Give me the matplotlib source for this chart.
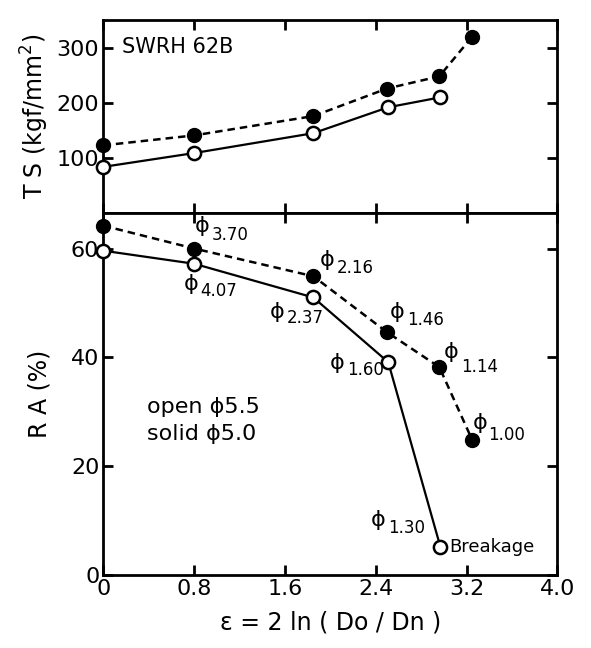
import matplotlib.pyplot as plt
import numpy as np

plt.rcParams['font.family'] = ['DejaVu Sans']

# 数据
x_solid = [0, 0.8, 1.85, 2.5, 2.96, 3.25]       # solid phi5.0
x_open = [0, 0.8, 1.85, 2.51, 2.97]             # open phi5.5
ts_solid = [123, 141, 176, 226, 248, 320]
ts_open = [84, 109, 145, 192, 210]
ra_solid = [64.2, 60.0, 54.9, 44.6, 38.2, 24.8]
ra_open = [59.6, 57.2, 51.0, 39.1, 5.1]

# 线径标注
dia_solid = [None, '3.70', '2.16', '1.46', '1.14', '1.00']
dia_open = [None, '4.07', '2.37', '1.60', '1.30']

xticks = [0, 0.8, 1.6, 2.4, 3.2, 4.0]
xtick_labels = ['0', '0.8', '1.6', '2.4', '3.2', '4.0']

fig = plt.figure(figsize=(5.91, 6.48), dpi=100)
ax1 = fig.add_axes([0.175, 0.671, 0.768, 0.298])
ax2 = fig.add_axes([0.175, 0.113, 0.768, 0.558])

for ax in (ax1, ax2):
    ax.set_xlim(0, 4.0)
    ax.set_xticks(xticks)
    ax.tick_params(direction='in', length=7, width=2, top=True, right=True,
                   labelsize=16, pad=3)
    for s in ax.spines.values():
        s.set_linewidth(2)

ax1.set_ylim(0, 350)
ax1.set_yticks([100, 200, 300])
ax1.set_xticklabels([])
ax2.set_ylim(0, 66.5)
ax2.set_yticks([0, 20, 40, 60])
ax2.set_xticklabels(xtick_labels)

# 曲线
ax1.plot(x_solid, ts_solid, 'k--', lw=1.8, dashes=(3, 2), marker='o', ms=10,
         mfc='k', mec='k', clip_on=False, zorder=3)
ax1.plot(x_open, ts_open, 'k-', lw=1.6, marker='o', ms=9.5, mfc='white',
         mec='k', mew=1.8, clip_on=False, zorder=3)
ax2.plot(x_solid, ra_solid, 'k--', lw=1.8, dashes=(3, 2), marker='o', ms=10,
         mfc='k', mec='k', clip_on=False, zorder=3)
ax2.plot(x_open, ra_open, 'k-', lw=1.6, marker='o', ms=9.5, mfc='white',
         mec='k', mew=1.8, clip_on=False, zorder=3)

# 标注偏移 (像素): (phi dx, phi dy, num dx, num dy)
off_solid = [None, (8, 23, 17, 14), (14, 16, 23, 8), (10, 20, 20, 12),
             (12, 15, 22, 0), (8, 17, 16, 5)]
off_open = [None, (-3, -20, 6, -27), (-36, -15, -27, -21), (-51, -1, -41, -8),
            (-62, 27, -52, 19)]


def label(ax, x, y, txt, off):
    ax.annotate('ϕ', (x, y), xytext=(off[0], off[1]), textcoords='offset pixels',
                ha='center', va='center', fontsize=16)
    ax.annotate(txt, (x, y), xytext=(off[2], off[3]), textcoords='offset pixels',
                ha='left', va='center', fontsize=12)


for x, y, t, o in zip(x_solid, ra_solid, dia_solid, off_solid):
    if t:
        label(ax2, x, y, t, o)
for x, y, t, o in zip(x_open, ra_open, dia_open, off_open):
    if t:
        label(ax2, x, y, t, o)

ax2.annotate('Breakage', (x_open[-1], ra_open[-1]), xytext=(9, 0),
             textcoords='offset pixels', ha='left', va='center', fontsize=13)

ax1.text(0.04, 0.86, 'SWRH 62B', transform=ax1.transAxes, fontsize=15,
         ha='left', va='center')
ax2.text(0.095, 0.465, 'open ϕ5.5', transform=ax2.transAxes, fontsize=16,
         ha='left', va='center')
ax2.text(0.095, 0.39, 'solid ϕ5.0', transform=ax2.transAxes, fontsize=16,
         ha='left', va='center')

ax1.set_ylabel('T S (kgf/mm$^2$)', fontsize=17, labelpad=4)
ax2.set_ylabel('R A (%)', fontsize=17, labelpad=14)
ax2.set_xlabel('ε = 2 ln ( Do / Dn )', fontsize=17, labelpad=8)
fig.align_ylabels([ax1, ax2])

fig.savefig('out.png', dpi=100)
